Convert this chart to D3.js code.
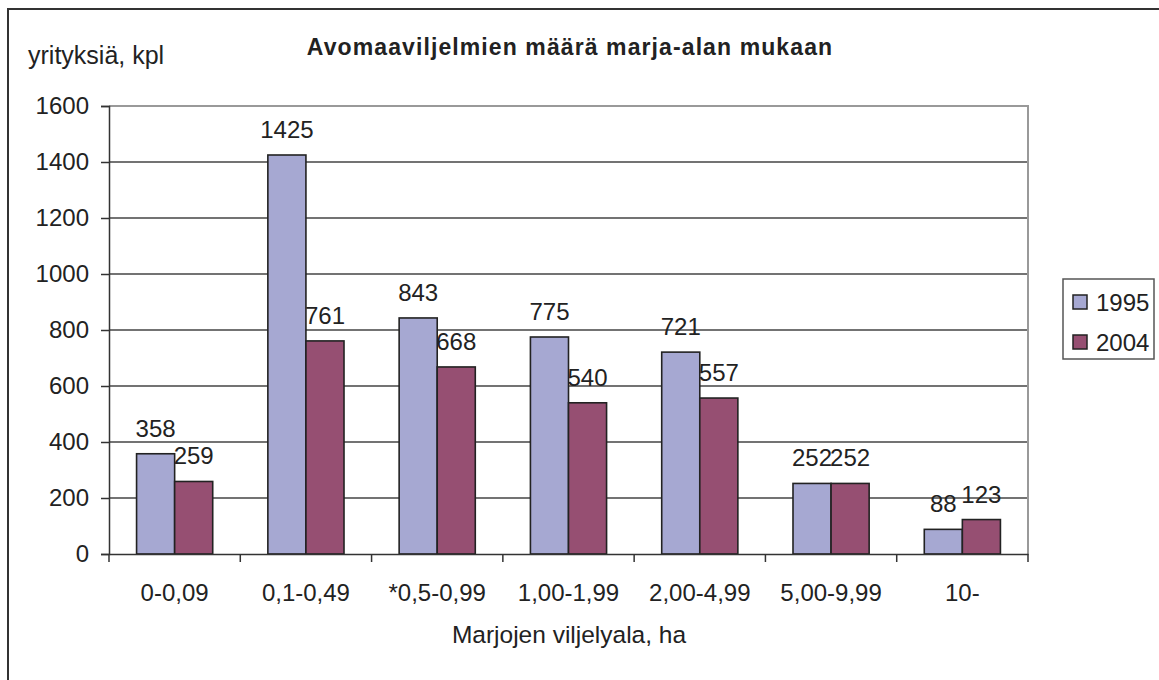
<!DOCTYPE html>
<html>
<head>
<meta charset="utf-8">
<script src="https://cdn.jsdelivr.net/npm/d3@7"></script>
<style>
  body { margin: 0; background: #fff; }
  svg { display: block; font-family: "Liberation Sans", Arial, sans-serif; }
</style>
</head>
<body>
<svg width="1159" height="680"></svg>
<script>
const categories = ["0-0,09", "0,1-0,49", "*0,5-0,99", "1,00-1,99", "2,00-4,99", "5,00-9,99", "10-"];
const series = ["1995", "2004"];
const values1995 = [358, 1425, 843, 775, 721, 252, 88];
const values2004 = [259, 761, 668, 540, 557, 252, 123];
const yTicks = [0, 200, 400, 600, 800, 1000, 1200, 1400, 1600];

const COLORS = { "1995": "#a6a8d2", "2004": "#964f72" };
const TEXT = "#222";
const FONT = "Liberation Sans, Arial, sans-serif";

let svg = d3.select("svg");

const plot = { left: 109, right: 1028, top: 106, bottom: 554 };

// outer chart border (only top and left fall inside the picture)
svg.append("rect")
  .attr("x", 8).attr("y", 9)
  .attr("width", 1170).attr("height", 700)
  .attr("fill", "none")
  .attr("stroke", "#333")
  .attr("stroke-width", 2);

let x0 = d3.scaleBand()
  .domain(categories)
  .range([plot.left, plot.right])
  .padding(0);

const barW = x0.bandwidth() * 0.29;

let y = d3.scaleLinear()
  .domain([0, 1600])
  .range([plot.bottom, plot.top]);

// gridlines
svg.append("g")
  .selectAll("line")
  .data(yTicks.filter((d) => d > 0 && d < 1600))
  .enter()
  .append("line")
  .attr("x1", plot.left).attr("x2", plot.right)
  .attr("y1", (d) => y(d)).attr("y2", (d) => y(d))
  .attr("stroke", "#444")
  .attr("stroke-width", 1.3);

// plot area border (top, right)
svg.append("path")
  .attr("d", `M${plot.left},${plot.top}H${plot.right}V${plot.bottom}`)
  .attr("fill", "none")
  .attr("stroke", "#999")
  .attr("stroke-width", 2);

// bars
const rows = categories.map((c, i) => ({ cat: c, v: [values1995[i], values2004[i]] }));

const groups = svg.append("g")
  .selectAll("g")
  .data(rows)
  .enter()
  .append("g");

groups.selectAll("rect")
  .data((d) => d.v.map((v, j) => ({ cat: d.cat, v, s: series[j], j })))
  .enter()
  .append("rect")
  .attr("x", (d) => x0(d.cat) + x0.bandwidth() / 2 - barW + d.j * barW)
  .attr("y", (d) => y(d.v))
  .attr("width", barW)
  .attr("height", (d) => y(0) - y(d.v))
  .attr("fill", (d) => COLORS[d.s])
  .attr("stroke", "#222")
  .attr("stroke-width", 1.6);

groups.selectAll("text")
  .data((d) => d.v.map((v, j) => ({ cat: d.cat, v, j })))
  .enter()
  .append("text")
  .attr("x", (d) => x0(d.cat) + x0.bandwidth() / 2 - barW / 2 + d.j * barW)
  .attr("y", (d) => y(d.v) - 17)
  .attr("text-anchor", "middle")
  .attr("font-size", 24)
  .attr("fill", TEXT)
  .text((d) => d.v);

// y axis
let yAxis = d3.axisLeft(y).tickValues(yTicks).tickFormat(d3.format("d")).tickSize(8).tickPadding(12);
let gy = svg.append("g")
  .attr("transform", `translate(${plot.left},0)`)
  .call(yAxis);
gy.select(".domain").attr("stroke", "#333").attr("stroke-width", 1.5);
gy.selectAll(".tick line").attr("stroke", "#333").attr("stroke-width", 1.5);
gy.selectAll(".tick text")
  .attr("font-size", 24)
  .attr("font-family", FONT)
  .attr("fill", TEXT);

// x axis
let xAxis = d3.axisBottom(x0).tickSize(0).tickPadding(30);
let gx = svg.append("g")
  .attr("transform", `translate(0,${plot.bottom})`)
  .call(xAxis);
gx.select(".domain").attr("stroke", "#333").attr("stroke-width", 1.5);
gx.selectAll(".tick text")
  .attr("font-size", 24)
  .attr("font-family", FONT)
  .attr("fill", TEXT);

// category separator ticks
svg.append("g")
  .selectAll("line")
  .data(categories.concat(["end"]))
  .enter()
  .append("line")
  .attr("x1", (d, i) => plot.left + i * x0.bandwidth())
  .attr("x2", (d, i) => plot.left + i * x0.bandwidth())
  .attr("y1", plot.bottom)
  .attr("y2", plot.bottom + 8)
  .attr("stroke", "#333")
  .attr("stroke-width", 1.5);

// titles
svg.append("text")
  .attr("x", 570).attr("y", 55)
  .attr("text-anchor", "middle")
  .attr("font-size", 23)
  .attr("font-weight", "bold")
  .attr("letter-spacing", 1.1)
  .attr("fill", TEXT)
  .text("Avomaaviljelmien määrä marja-alan mukaan");

svg.append("text")
  .attr("x", 28).attr("y", 64)
  .attr("font-size", 25)
  .attr("fill", TEXT)
  .text("yrityksiä, kpl");

svg.append("text")
  .attr("x", 569).attr("y", 643)
  .attr("text-anchor", "middle")
  .attr("font-size", 24.5)
  .attr("fill", TEXT)
  .text("Marjojen viljelyala, ha");

// legend
let legend = svg.append("g").attr("transform", "translate(1063,279)");
legend.append("rect")
  .attr("width", 91).attr("height", 80)
  .attr("fill", "#fff")
  .attr("stroke", "#555")
  .attr("stroke-width", 1.5);

let li = legend.selectAll(".li")
  .data(series)
  .enter()
  .append("g")
  .attr("class", "li")
  .attr("transform", (d, i) => `translate(10,${16 + i * 40})`);

li.append("rect")
  .attr("width", 14).attr("height", 14)
  .attr("fill", (d) => COLORS[d])
  .attr("stroke", "#222")
  .attr("stroke-width", 1.5);

li.append("text")
  .attr("x", 23).attr("y", 16)
  .attr("font-size", 24)
  .attr("fill", TEXT)
  .text((d) => d);
</script>
</body>
</html>
